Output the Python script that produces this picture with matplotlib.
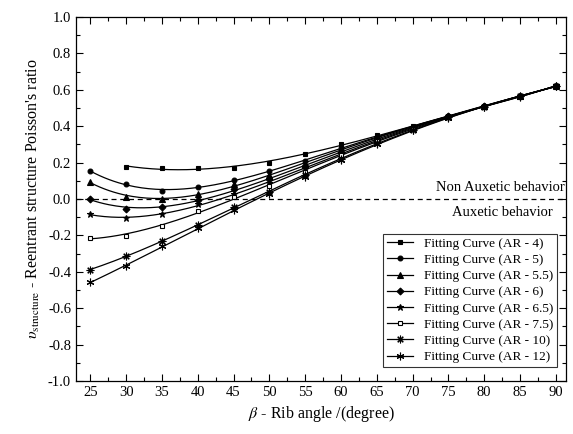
import numpy as np
import matplotlib.pyplot as plt

plt.rcParams['font.family'] = ['Liberation Serif', 'DejaVu Serif']
plt.rcParams['mathtext.fontset'] = 'stix'

# rib angle (degree)
beta = np.array([25, 30, 35, 40, 45, 50, 55, 60, 65, 70, 75, 80, 85, 90])
beta_ar4 = beta[1:]

# Poisson's ratio of the reentrant structure for each aspect ratio
nu_ar4 = [0.177, 0.169, 0.173, 0.171, 0.200, 0.245, 0.305, 0.350, 0.400, 0.455, 0.510, 0.565, 0.620]
nu_ar5 = [0.155, 0.080, 0.042, 0.066, 0.107, 0.155, 0.210, 0.280, 0.340, 0.395, 0.455, 0.510, 0.565, 0.620]
nu_ar55 = [0.095, 0.013, -0.002, 0.027, 0.080, 0.130, 0.195, 0.270, 0.335, 0.395, 0.455, 0.510, 0.565, 0.620]
nu_ar6 = [0.000, -0.053, -0.042, -0.008, 0.053, 0.110, 0.180, 0.260, 0.330, 0.390, 0.455, 0.510, 0.565, 0.620]
nu_ar65 = [-0.084, -0.106, -0.082, -0.029, 0.027, 0.090, 0.165, 0.250, 0.325, 0.390, 0.453, 0.510, 0.565, 0.620]
nu_ar75 = [-0.213, -0.202, -0.148, -0.066, 0.013, 0.070, 0.150, 0.240, 0.320, 0.385, 0.450, 0.508, 0.565, 0.620]
nu_ar10 = [-0.388, -0.315, -0.230, -0.142, -0.045, 0.040, 0.130, 0.222, 0.310, 0.380, 0.448, 0.506, 0.564, 0.620]
nu_ar12 = [-0.457, -0.370, -0.260, -0.160, -0.060, 0.028, 0.120, 0.213, 0.305, 0.378, 0.447, 0.505, 0.563, 0.620]

labels = ['Fitting Curve (AR - 4)', 'Fitting Curve (AR - 5)', 'Fitting Curve (AR - 5.5)',
          'Fitting Curve (AR - 6)', 'Fitting Curve (AR - 6.5)', 'Fitting Curve (AR - 7.5)',
          'Fitting Curve (AR - 10)', 'Fitting Curve (AR - 12)']

series = [(beta_ar4, nu_ar4), (beta, nu_ar5), (beta, nu_ar55), (beta, nu_ar6),
          (beta, nu_ar65), (beta, nu_ar75), (beta, nu_ar10), (beta, nu_ar12)]
markers = ['s', 'o', '^', 'D', '*', 's', (8, 2, 0), (6, 2, 0)]
msizes = [3.5, 3.5, 4.5, 3.5, 4.5, 3.2, 5.5, 5.5]
mfcs = ['k', 'k', 'k', 'k', 'k', 'white', 'k', 'k']

fig = plt.figure(figsize=(5.73, 4.34), dpi=100)
ax = fig.add_axes([0.1326, 0.1221, 0.855, 0.8387])

for (x, y), lab, m, ms, fc in zip(series, labels, markers, msizes, mfcs):
    x = np.asarray(x)
    coef = np.polyfit(x, y, 4)
    xs = np.linspace(x.min(), x.max(), 200)
    ax.plot(xs, np.polyval(coef, xs), color='k', lw=0.9)
    ax.plot(x, y, linestyle='none', marker=m, ms=ms, color='k', mfc=fc, mew=0.8)
    # legend proxy: line with marker
    ax.plot([], [], color='k', lw=0.9, marker=m, ms=ms, mfc=fc, mew=0.8, label=lab)

ax.axhline(0, color='k', lw=0.9, ls=(0, (4, 3)))

ax.text(91.2, 0.025, 'Non Auxetic behavior', ha='right', va='bottom', fontsize=10.5)
ax.text(82.5, -0.075, 'Auxetic behavior', ha='center', va='center', fontsize=10.5)

ax.set_xlim(23, 91.4)
ax.set_ylim(-1.0, 1.0)
ax.set_xticks(np.arange(25, 91, 5))
ax.set_xticks(np.arange(27.5, 91, 5), minor=True)
yt = np.round(np.arange(-1.0, 1.01, 0.2), 1)
ax.set_yticks(yt)
ax.set_yticks(np.arange(-0.9, 1.0, 0.2), minor=True)
ax.set_yticklabels([f'{v + 0.0:.1f}' for v in yt])
ax.tick_params(which='both', direction='in', top=True, right=True, labelsize=10.5)
ax.tick_params(which='major', length=5, width=0.8)
ax.tick_params(which='minor', length=3, width=0.8)
for s in ax.spines.values():
    s.set_linewidth(0.9)

ax.set_xlabel(r'$\beta$ - Rib angle /(degree)', fontsize=11.5)
ax.set_ylabel(r"$\upsilon_{\mathrm{structure}}$ - Reentrant structure Poisson's ratio", fontsize=11.5)

leg = ax.legend(loc='lower right', fontsize=9.5, frameon=True, fancybox=False,
                edgecolor='k', handlelength=2.0, labelspacing=0.3, borderpad=0.3,
                bbox_to_anchor=(0.995, 0.02))
leg.get_frame().set_linewidth(0.8)

fig.savefig('out.png', dpi=100)
